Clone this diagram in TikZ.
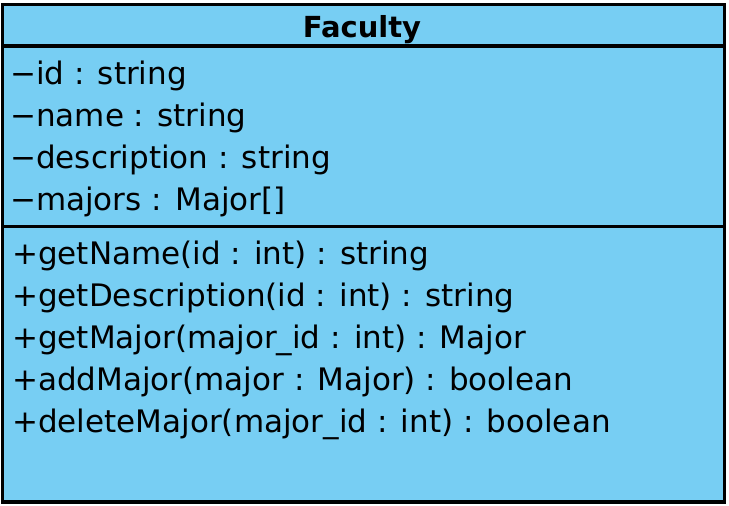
\documentclass[tikz,border=0pt]{standalone}
\usepackage{fontspec}
\setmainfont{DejaVu Sans}
\definecolor{umlblue}{RGB}{119,206,243}
\begin{document}
\begin{tikzpicture}[x=1pt,y=-1pt,
  member/.style={anchor=base west, inner sep=0pt, font=\fontsize{31}{36}\selectfont},
  boxline/.style={line width=3.4pt, draw=black}]
\useasboundingbox (0,0) rectangle (729,506);
\path[fill=umlblue] (2.5,4.5) rectangle (724.5,502);
\node[anchor=base, inner sep=0pt, font=\fontsize{29}{34}\selectfont\bfseries] (title) at (362,37) {Faculty};
\node[member] (a1) at (10,84) {−id : string};
\node[member] (a2) at (10,126) {−name : string};
\node[member] (a3) at (10,168) {−description : string};
\node[member] (a4) at (10,210) {−majors : Major[]};
\node[member] (m1) at (12,264) {+getName(id : int) : string};
\node[member] (m2) at (12,306) {+getDescription(id : int) : string};
\node[member] (m3) at (12,348) {+getMajor(major\_id : int) : Major};
\node[member] (m4) at (12,390) {+addMajor(major : Major) : boolean};
\node[member] (m5) at (12,432) {+deleteMajor(major\_id : int) : boolean};
\draw[boxline] (2.5,46) -- (724.5,46);
\draw[boxline] (2.5,226.5) -- (724.5,226.5);
\draw[boxline] (2.5,4.5) rectangle (724.5,502);
\end{tikzpicture}
\end{document}
